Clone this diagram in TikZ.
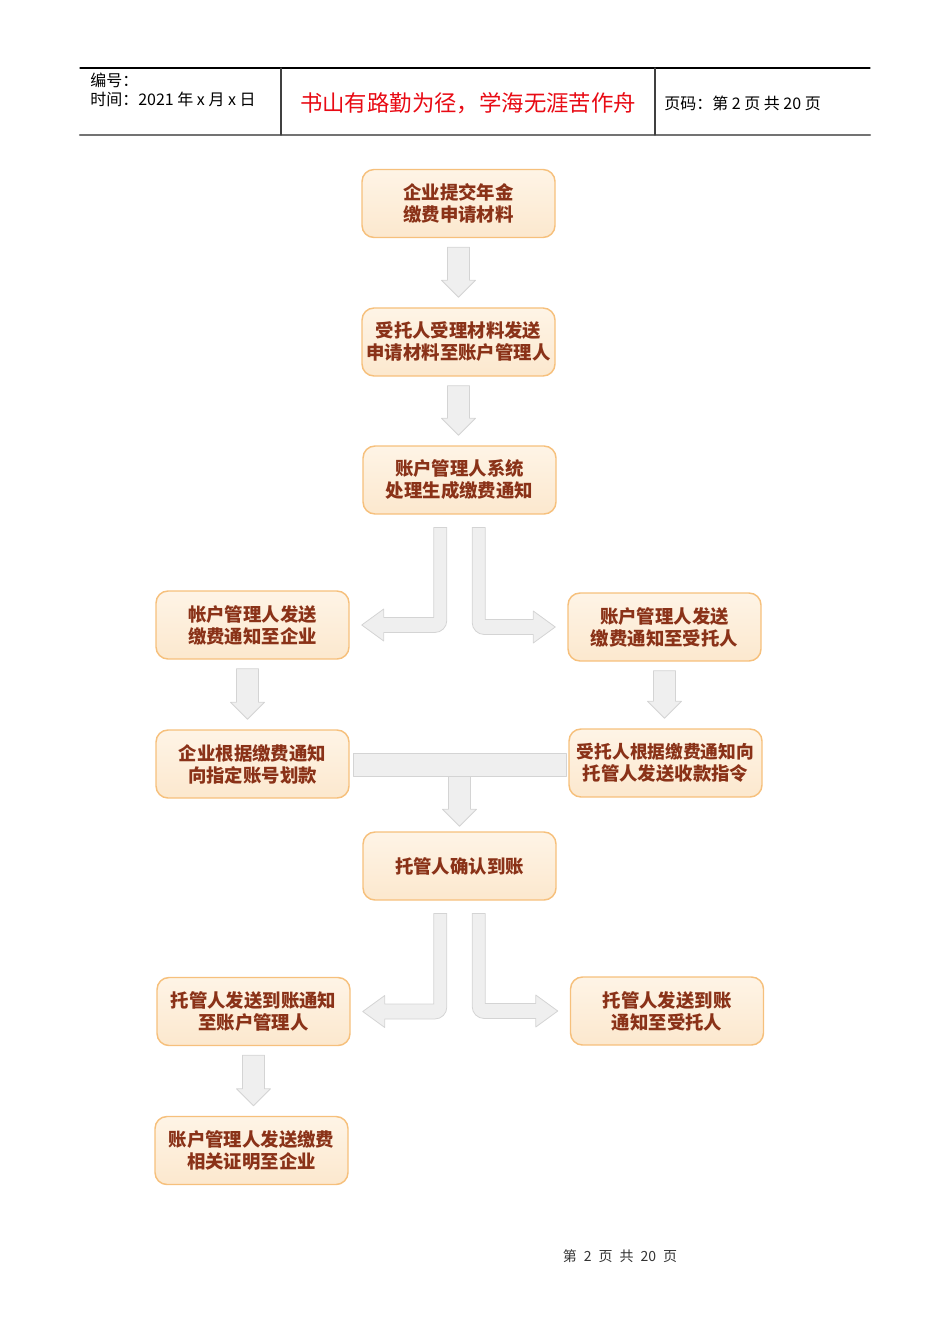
\documentclass[tikz,border=0pt]{standalone}
\usepackage{fontspec}
\newfontfamily\cjk{Noto Sans CJK SC}
\usetikzlibrary{calc}
\definecolor{boxline}{RGB}{246,192,124}
\definecolor{boxtop}{RGB}{254,244,230}
\definecolor{boxbot}{RGB}{252,232,206}
\definecolor{boxtext}{RGB}{138,50,24}
\definecolor{arrowfill}{RGB}{239,239,239}
\definecolor{arrowline}{RGB}{212,212,212}
\definecolor{mottored}{RGB}{232,10,20}
\tikzset{
  stepbox/.style={draw=boxline, line width=1.1pt, rounded corners=9pt, top color=boxtop, bottom color=boxbot,
    minimum width=144.75pt, minimum height=51pt, inner sep=1pt, align=center, text=boxtext,
    font=\cjk\bfseries\fontsize{13.8}{16.5}\selectfont},
  blockarrow/.style={fill=arrowfill, draw=arrowline, line width=0.6pt, line join=round},
  hdr/.style={inner sep=0pt, font=\cjk\fontsize{12}{13}\selectfont},
  barbox/.style={blockarrow, minimum width=159.75pt, minimum height=17.25pt, inner sep=0pt},
}
% block arrow pointing down, from #1 to #2
\newcommand\blockdown[2]{%
  \draw[blockarrow] let \p1=(#1), \p2=(#2) in
    (\x1-8.25pt,\y1-6.75pt) -- (\x1+8.25pt,\y1-6.75pt) -- (\x1+8.25pt,\y2+20.25pt)
    -- (\x1+12.75pt,\y2+20.25pt) -- (\x1,\y2+7.5pt) -- (\x1-12.75pt,\y2+20.25pt)
    -- (\x1-8.25pt,\y2+20.25pt) -- cycle;}
% two bent arrows from #1 to #2 (left) and #3 (right)
\newcommand\blocksplit[3]{%
  \draw[blockarrow] let \p1=(#1.south), \p2=(#2.east) in
    (\x1-19.25pt,\y1-9.5pt) -- (\x1-9.5pt,\y1-9.5pt) -- (\x1-9.5pt,\y2+3.375pt)
    arc[start angle=0, end angle=-90, radius=9pt] -- (\x2+25.5pt,\y2-5.625pt)
    -- (\x2+25.5pt,\y2-12pt) -- (\x2+9pt,\y2) -- (\x2+25.5pt,\y2+12pt)
    -- (\x2+25.5pt,\y2+5.625pt) -- (\x1-19.25pt,\y2+5.625pt) -- cycle;
  \draw[blockarrow] let \p1=(#1.south), \p3=(#3.west) in
    (\x1+9.5pt,\y1-9.5pt) -- (\x1+19.25pt,\y1-9.5pt) -- (\x1+19.25pt,\y3+5.625pt)
    -- (\x3-25.5pt,\y3+5.625pt) -- (\x3-25.5pt,\y3+12pt) -- (\x3-9pt,\y3)
    -- (\x3-25.5pt,\y3-12pt) -- (\x3-25.5pt,\y3-5.625pt) -- (\x1+18.5pt,\y3-5.625pt)
    arc[start angle=-90, end angle=-180, radius=9pt] -- cycle;}
\begin{document}
\begin{tikzpicture}[x=0.75pt, y=-0.75pt, line join=round, line cap=round]
\useasboundingbox (0,0) rectangle (950,1344);
% header
\draw[line width=0.8pt] (80,68) -- (870,68);
\draw[line width=1.6pt, black!55] (80,135) -- (870,135);
\foreach \i in {281,655} \draw[line width=0.8pt, black!75] (\i,68) -- (\i,135);
\node[hdr, anchor=west] (code) at (90,80) {编号：};
\node[hdr, anchor=west] (date) at (90,99) {时间：2021 年 x 月 x 日};
\node[inner sep=0pt, text=mottored, font=\cjk\fontsize{16.8}{18}\selectfont] (motto) at (468,103) {书山有路勤为径，学海无涯苦作舟};
\node[hdr, anchor=west] (page) at (664,103) {页码：第 2 页 共 20 页};
% steps
\foreach \nm/\px/\py/\txt in {
  b1/458.5/203.5/{企业提交年金\\缴费申请材料},
  b2/458.5/342/{受托人受理材料发送\\申请材料至账户管理人},
  b3/459.5/480/{账户管理人系统\\处理生成缴费通知},
  b4/252.5/625/{帐户管理人发送\\缴费通知至企业},
  b5/664.5/627/{账户管理人发送\\缴费通知至受托人},
  b6/252.5/764/{企业根据缴费通知\\向指定账号划款},
  b7/665.5/763/{\fontsize{13.3}{16.5}\selectfont 受托人根据缴费通知向\\托管人发送收款指令},
  b8/459.5/866/{托管人确认到账},
  b9/253.5/1011.5/{托管人发送到账通知\\至账户管理人},
  b10/667/1011/{托管人发送到账\\通知至受托人},
  b11/251.5/1150.5/{账户管理人发送缴费\\相关证明至企业}}
  \node[stepbox] (\nm) at (\px,\py) {\txt};
% arrows
\blockdown{b1.south}{b2.north}
\blockdown{b2.south}{b3.north}
\blocksplit{b3}{b4}{b5}
\blockdown{$(b4.south)+(-5,0)$}{$(b6.north)+(-5,0)$}
\blockdown{b5.south}{b7.north}
\node[barbox] (bar) at (459.5,764.5) {};
\blockdown{$(bar.south)+(0,-9)$}{$(b8.north)+(0,5)$}
\blocksplit{b8}{b9}{b10}
\blockdown{b9.south}{b11.north}
% footer
\node[inner sep=0pt, text=black!80, font=\cjk\fontsize{10.5}{12}\selectfont] (foot) at (620,1256)
  {第\hspace{0.5em}2\hspace{0.5em}页\hspace{0.5em}共\hspace{0.5em}20\hspace{0.5em}页};
\end{tikzpicture}
\end{document}
